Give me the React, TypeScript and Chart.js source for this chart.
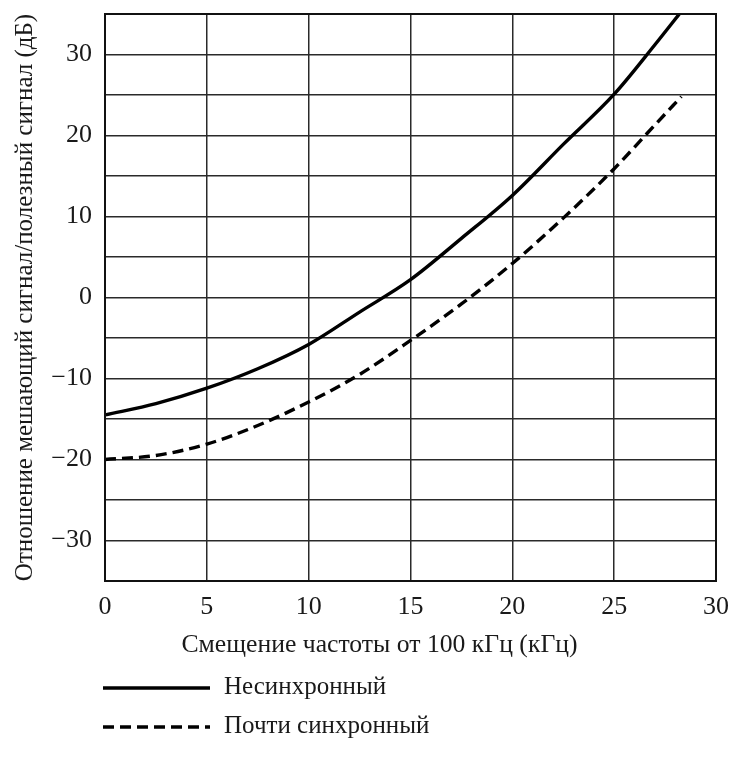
import React, { useEffect, useRef } from "react";
import { Chart, registerables } from "chart.js";

Chart.register(...registerables);

const xTitle = "Смещение частоты от 100 кГц (кГц)";
const yTitle = "Отношение мешающий сигнал/полезный сигнал (дБ)";
const seriesNames = ["Несинхронный", "Почти синхронный"];

const asyncX = [0, 2.5, 5, 7.5, 10, 12.5, 15, 17.5, 20, 22.5, 25, 27, 28.2];
const asyncY = [-14.5, -13.1, -11.2, -8.8, -5.8, -1.8, 2.2, 7.3, 12.6, 18.9, 25.1, 31.2, 35];

const syncX = [0, 2.5, 5, 7.5, 10, 12.5, 15, 17.5, 20, 22.5, 25, 27, 28.3];
const syncY = [-20, -19.5, -18.1, -15.8, -12.9, -9.5, -5.3, -0.8, 4.2, 9.8, 15.9, 21.3, 24.8];

const xTicks = [0, 5, 10, 15, 20, 25, 30];
const yLabeled = [-30, -20, -10, 0, 10, 20, 30];

const FONT = "'Liberation Serif', 'Times New Roman', serif";

const pts = (xs: number[], ys: number[]) => xs.map((x, i) => ({ x, y: ys[i] }));

const framePlugin = {
  id: "frame",
  afterDatasetsDraw(chart: any) {
    const { ctx, chartArea } = chart;
    ctx.save();
    ctx.strokeStyle = "#111";
    ctx.lineWidth = 2;
    ctx.strokeRect(chartArea.left, chartArea.top, chartArea.right - chartArea.left, chartArea.bottom - chartArea.top);
    ctx.restore();
  },
};

const xTitlePlugin = {
  id: "xTitleText",
  afterDraw(chart: any) {
    const { ctx, chartArea } = chart;
    ctx.save();
    ctx.fillStyle = "#1a1a1a";
    ctx.font = `25.7px ${FONT}`;
    ctx.textAlign = "center";
    ctx.textBaseline = "alphabetic";
    ctx.fillText(xTitle, (chartArea.left + chartArea.right) / 2 - 31, 652);
    ctx.restore();
  },
};

const legendPlugin = {
  id: "customLegend",
  afterDraw(chart: any) {
    const { ctx } = chart;
    ctx.save();
    const rows = [688, 727];
    chart.data.datasets.forEach((ds: any, i: number) => {
      const y = rows[i];
      ctx.beginPath();
      ctx.strokeStyle = ds.borderColor;
      ctx.lineWidth = 3.4;
      ctx.setLineDash(ds.borderDash || []);
      ctx.lineCap = "butt";
      ctx.moveTo(103, y);
      ctx.lineTo(210, y);
      ctx.stroke();
      ctx.setLineDash([]);
      ctx.fillStyle = "#1a1a1a";
      ctx.font = `25px ${FONT}`;
      ctx.textBaseline = "middle";
      ctx.textAlign = "left";
      ctx.fillText(ds.label, 224, y - 1);
    });
    ctx.restore();
  },
};

export default function App() {
  const ref = useRef<HTMLCanvasElement>(null);
  useEffect(() => {
    if (!ref.current) return;
    const chart = new Chart(ref.current, {
      type: "line",
      data: {
        datasets: [
          {
            label: seriesNames[0],
            data: pts(asyncX, asyncY),
            borderColor: "#000",
            borderWidth: 3.4,
            pointRadius: 0,
            cubicInterpolationMode: "monotone",
            fill: false,
          },
          {
            label: seriesNames[1],
            data: pts(syncX, syncY),
            borderColor: "#000",
            borderWidth: 3.4,
            borderDash: [11, 6],
            pointRadius: 0,
            cubicInterpolationMode: "monotone",
            fill: false,
          },
        ],
      },
      options: {
        animation: false,
        responsive: false,
        maintainAspectRatio: false,
        layout: { padding: { top: 14, right: 16, bottom: 107, left: 0 } },
        plugins: { legend: { display: false }, tooltip: { enabled: false } },
        scales: {
          x: {
            type: "linear",
            min: 0,
            max: 30,
            afterBuildTicks: (s: any) => {
              s.ticks = xTicks.map((v) => ({ value: v }));
            },
            afterFit: (s: any) => {
              s.height = 79;
              s.paddingLeft = 0;
              s.paddingRight = 0;
            },
            ticks: {
              padding: 11,
              color: "#1a1a1a",
              font: { family: FONT, size: 26 },
            },
            grid: { color: "#2a2a2a", lineWidth: 1.5, drawTicks: false },
            border: { display: false },
            title: { display: false },
          },
          y: {
            type: "linear",
            min: -35,
            max: 35,
            ticks: {
              stepSize: 5,
              padding: 13,
              color: "#1a1a1a",
              font: { family: FONT, size: 26 },
              callback: (v: any) => (yLabeled.includes(Number(v)) ? (Number(v) < 0 ? "\u2212" + Math.abs(Number(v)) : String(v)) : ""),
            },
            afterFit: (s: any) => {
              s.width = 105;
              s.paddingTop = 0;
              s.paddingBottom = 0;
            },
            grid: { color: "#2a2a2a", lineWidth: 1.5, drawTicks: false },
            border: { display: false },
            title: {
              display: true,
              text: yTitle,
              color: "#1a1a1a",
              font: { family: FONT, size: 25 },
              padding: { top: 10, bottom: 0 },
            },
          },
        },
      },
      plugins: [framePlugin, xTitlePlugin, legendPlugin],
    } as any);
    return () => chart.destroy();
  }, []);
  return (
    <div style={{ position: "fixed", left: 0, top: 0, width: 732, height: 767, background: "#fff" }}>
      <canvas ref={ref} width={732} height={767} style={{ width: 732, height: 767, display: "block" }} />
    </div>
  );
}
